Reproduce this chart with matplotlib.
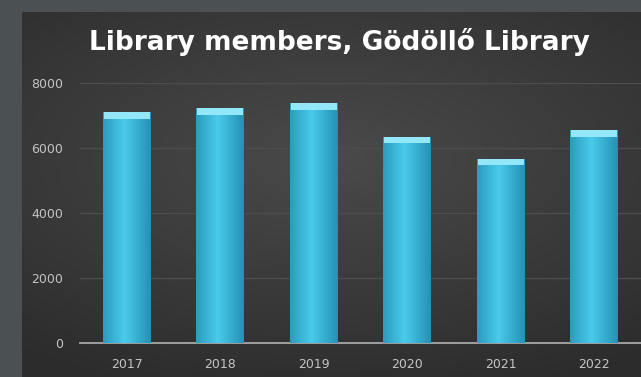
import numpy as np
import matplotlib.pyplot as plt

years = ["2017", "2018", "2019", "2020", "2021", "2022"]
members = [7100, 7230, 7380, 6340, 5660, 6550]
y_ticks = [0, 2000, 4000, 6000, 8000]

W, H = 641, 377
fig = plt.figure(figsize=(W / 100, H / 100), dpi=100)
fig.patch.set_facecolor("#4b5052")

# dark panel with soft radial shading
panel = fig.add_axes([22 / W, 0, 1 - 22 / W, 1 - 12 / H])
panel.set_axis_off()
yy, xx = np.mgrid[-1:1:200j, -1:1:300j]
r = np.sqrt((xx * 0.9) ** 2 + ((yy + 0.2) * 1.1) ** 2)
shade = np.clip(1 - r / 1.5, 0, 1)
lo = np.array([0x2c, 0x2c, 0x2c]) / 255
hi = np.array([0x4a, 0x4a, 0x4a]) / 255
img = lo + (hi - lo) * shade[..., None]
panel.imshow(img, aspect="auto", extent=[0, 1, 0, 1])
panel.set_xlim(0, 1)
panel.set_ylim(0, 1)

ax = fig.add_axes([80 / W, (H - 343) / H, 1 - 80 / W, (343 - 83) / H])
ax.patch.set_alpha(0)
x = np.arange(len(years))
bars = ax.bar(x, members, width=0.51, color="#3abde2", zorder=3)

# horizontal gradient inside each bar
grad = np.linspace(0, 1, 64)
prof = 1 - np.abs(grad - 0.45) * 1.5
cdark = np.array([0x1c, 0x86, 0xa8]) / 255
clight = np.array([0x4a, 0xca, 0xec]) / 255
gimg = (cdark + (clight - cdark) * np.clip(prof, 0, 1)[:, None])[None, :, :]
for b in bars:
    x0, w, h = b.get_x(), b.get_width(), b.get_height()
    im = ax.imshow(gimg, aspect="auto", extent=[x0, x0 + w, 0, h], zorder=4)
    im.set_clip_path(b)
# light cap on top of each bar
caps = [v * 0.03 for v in members]
ax.bar(x, caps, width=0.49, bottom=[v - c for v, c in zip(members, caps)],
       color="#92e8f8", zorder=5)

ax.set_xlim(-0.5, 5.5)
ax.set_ylim(0, 8000)
ax.set_xticks(x)
ax.set_xticklabels(years)
ax.set_yticks(y_ticks)
ax.tick_params(colors="#c4c4c4", labelsize=9, length=0)
ax.tick_params(axis="x", pad=11)
ax.tick_params(axis="y", pad=12)
ax.yaxis.grid(True, color="#4d4d4d", linewidth=1, zorder=0)
for s in ["top", "right", "left"]:
    ax.spines[s].set_visible(False)
ax.spines["bottom"].set_color("#a8a8a8")
ax.spines["bottom"].set_linewidth(1.3)

fig.text(339 / W, 1 - 42 / H, "Library members, Gödöllő Library", color="white",
         fontsize=19, fontweight="bold", ha="center", va="center",
         family=["DejaVu Sans"])

fig.savefig("out.png", dpi=100, facecolor=fig.get_facecolor())
